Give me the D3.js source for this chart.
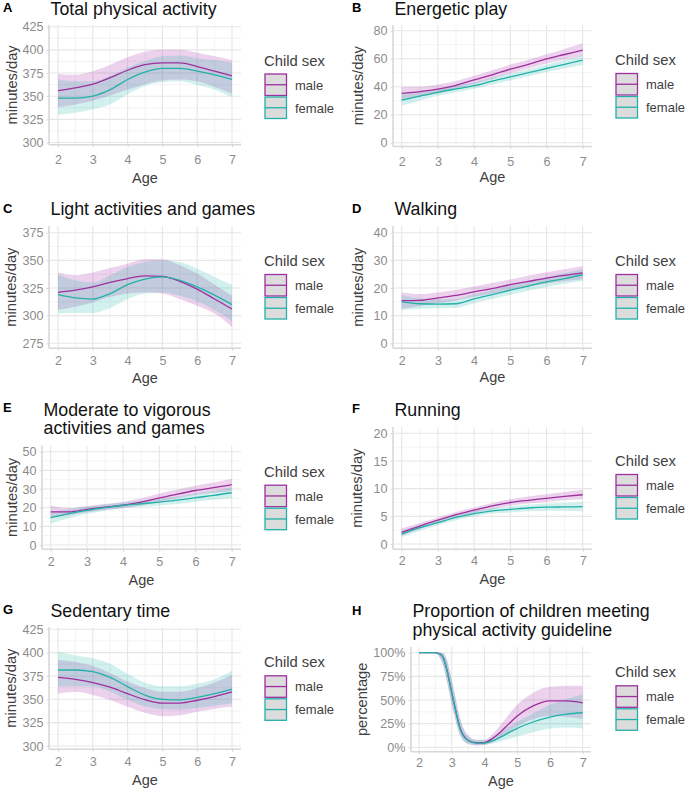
<!DOCTYPE html>
<html>
<head>
<meta charset="utf-8">
<script src="https://cdn.jsdelivr.net/npm/d3@7"></script>
<style>
  body { margin: 0; background: #fff; }
  svg { display: block; font-family: "Liberation Sans", Arial, sans-serif; }
</style>
</head>
<body>
<div id="chart"></div>
<script>
const ages = [2, 2.5, 3, 3.5, 4, 4.5, 5, 5.5, 6, 6.5, 7];
const agesH = [2, 2.25, 2.5, 2.65, 2.75, 2.85, 3, 3.1, 3.25, 3.5, 3.75, 4, 4.25, 4.5, 4.75, 5, 5.5, 6, 6.5, 7];
const ageTicks = [2, 3, 4, 5, 6, 7];
const sexes = ['male', 'female'];

// A - total physical activity
const totalMale     = [356, 359, 363, 370, 378, 384, 386, 386, 382, 377, 372];
const totalMaleLo   = [338, 341, 345, 351, 357, 363, 367, 368, 366, 360, 353];
const totalMaleHi   = [374, 373, 377, 384, 392, 398, 400, 400, 397, 393, 389];
const totalFemale   = [348, 348, 350, 357, 368, 376, 380, 380, 377, 373, 368];
const totalFemaleLo = [330, 332, 336, 341, 352, 361, 365, 366, 362, 357, 349];
const totalFemaleHi = [368, 366, 366, 372, 381, 388, 393, 394, 391, 389, 386];

// B - energetic play
const energMale     = [35.2, 36.5, 38.3, 41, 44.8, 48.5, 52.5, 56, 59.8, 63, 66.2];
const energMaleLo   = [31, 33, 35.5, 38.5, 42, 45.5, 49.5, 53, 56.5, 59.5, 62];
const energMaleHi   = [40, 40, 41.5, 44, 47.8, 51.8, 55.8, 59.3, 63.2, 67, 71];
const energFemale   = [30.5, 33.3, 36, 38.4, 40.7, 44, 47, 50, 53, 56, 59];
const energFemaleLo = [26.5, 30, 33.5, 36, 38.5, 41.5, 44.5, 47.5, 50.5, 53, 55.5];
const energFemaleHi = [34.5, 36.5, 38.5, 41, 43, 46.5, 49.5, 52.5, 55.8, 59, 62.5];

// C - light activities and games
const lightMale     = [321, 323, 326, 330, 333.5, 336, 335.5, 331, 324, 315, 306];
const lightMaleLo   = [305, 308, 312, 317, 320, 321, 320, 315, 309, 302, 290];
const lightMaleHi   = [339, 336.5, 339, 343, 347, 351, 351, 345.5, 338, 328, 318];
const lightFemale   = [319, 316, 315, 320, 328, 333, 335, 332, 326, 318.5, 310];
const lightFemaleLo = [302, 302.5, 302.5, 307, 315, 320, 321, 318, 313, 305, 295];
const lightFemaleHi = [337, 332, 330, 336.5, 344, 348.5, 350, 348.5, 342.5, 335, 328];

// D - walking
const walkMale     = [15.4, 15.5, 16.4, 17.3, 18.6, 19.8, 21.2, 22.4, 23.6, 24.6, 25.5];
const walkMaleLo   = [12.5, 13.5, 14.5, 15.5, 16.8, 18, 19.3, 20.5, 21.6, 22.5, 23.2];
const walkMaleHi   = [18.5, 17.8, 18.4, 19.3, 20.5, 21.8, 23.1, 24.4, 25.7, 26.8, 28];
const walkFemale   = [15, 14.3, 14.2, 14.3, 16.1, 17.6, 19.2, 20.7, 22.2, 23.4, 24.8];
const walkFemaleLo = [12, 12.5, 12.6, 12.8, 14.5, 16, 17.5, 19, 20.4, 21.5, 22.5];
const walkFemaleHi = [17.5, 16.2, 15.9, 16, 17.7, 19.2, 20.8, 22.4, 24, 25.3, 27];

// E - moderate to vigorous activities and games
const mvpaMale     = [17.7, 17.7, 19.1, 20.3, 21.3, 23, 25.2, 27.3, 29.2, 30.7, 32.3];
const mvpaMaleLo   = [15, 16, 17.5, 18.8, 19.8, 21.2, 23.2, 25.2, 26.8, 28, 29];
const mvpaMaleHi   = [21, 19.8, 20.8, 22, 23, 25, 27.6, 29.8, 31.8, 33.5, 35.5];
const mvpaFemale   = [14.6, 16.8, 18.6, 20, 21.3, 22.1, 23, 24, 25.4, 26.6, 28];
const mvpaFemaleLo = [11.5, 14.3, 16.7, 18.3, 19.8, 20.5, 21.2, 22, 23.2, 24.2, 25];
const mvpaFemaleHi = [17.8, 19.2, 20.6, 21.7, 22.8, 23.7, 24.8, 26, 27.6, 29, 31];

// F - running
const runMale     = [2.1, 3.25, 4.3, 5.3, 6.1, 6.9, 7.5, 7.9, 8.25, 8.6, 8.9];
const runMaleLo   = [1.5, 2.7, 3.8, 4.8, 5.6, 6.3, 6.9, 7.3, 7.6, 7.9, 8.1];
const runMaleHi   = [2.8, 3.8, 4.8, 5.8, 6.6, 7.4, 8.1, 8.6, 9, 9.4, 9.8];
const runFemale   = [1.8, 2.95, 3.85, 4.8, 5.5, 6, 6.25, 6.5, 6.65, 6.7, 6.75];
const runFemaleLo = [1.2, 2.4, 3.4, 4.3, 5, 5.5, 5.7, 5.9, 6, 6, 5.9];
const runFemaleHi = [2.4, 3.5, 4.3, 5.3, 6, 6.5, 6.8, 7.1, 7.3, 7.4, 7.6];

// G - sedentary time
const sedMale     = [373.6, 371.4, 368, 363, 356, 349.6, 346, 346, 349, 353, 358];
const sedMaleLo   = [356, 358, 354.6, 349.3, 342, 335.6, 332, 333, 336.8, 340, 342];
const sedMaleHi   = [392, 390, 385.7, 378, 369, 362, 358, 358, 362, 368, 376];
const sedFemale   = [381.4, 381.4, 379.6, 373.6, 363.6, 354.6, 350, 349.3, 352, 356, 361];
const sedFemaleLo = [363.6, 363.6, 363.6, 358, 349.3, 342.3, 339.5, 338.8, 340.6, 343, 345.7];
const sedFemaleHi = [401, 397, 394, 388, 377, 368, 364, 364, 366.6, 371.4, 380.7];

// H - proportion meeting guideline (%)
const propMale     = [100, 100, 100, 98.5, 94, 82, 58, 42, 21, 7.5, 4.8, 5, 9.5, 16.5, 25, 33, 44, 49, 49, 47];
const propMaleLo   = [99.5, 99.5, 99, 94, 85, 70, 45, 31, 13, 3.5, 2, 2.5, 5, 10, 16, 22, 30, 33, 32, 30];
const propMaleHi   = [100, 100, 100, 100, 99.5, 93, 71, 55, 31, 12.5, 8, 8, 14, 24, 35, 45, 58, 64, 65, 65];
const propFemale   = [100, 100, 100, 98.5, 94, 82, 58, 42, 20, 7, 4.5, 4.5, 7, 11, 15.5, 20, 27, 32, 35, 36.5];
const propFemaleLo = [99.5, 99.5, 99, 94, 85, 70, 45, 31, 13, 3.5, 2, 2.5, 4, 6.5, 9, 11.5, 16, 20, 21, 20];
const propFemaleHi = [100, 100, 100, 100, 99.5, 93, 71, 55, 31, 12, 8, 8, 10.5, 16, 22, 27, 36, 45, 51, 56];

const lineColor = { male: '#9E2F9E', female: '#23B0A8' };
const fillColor = { male: '#A020A0', female: '#20B2AA' };

// layout of the eight panels (pixel positions)
const panels = [
  { letter: 'A', title: ['Total physical activity'], x: ages,
    series: [[totalMale, totalMaleLo, totalMaleHi], [totalFemale, totalFemaleLo, totalFemaleHi]],
    yDomain: [300, 425], yTicks: [300, 325, 350, 375, 400, 425], yLabel: 'minutes/day',
    xr: [58, 232], yr: [142.5, 26.7], box: [49, 241, 25, 144.8],
    letterY: 11.7, titleY: [15], tickY: 164.5, ageY: 183, yTitleX: 11.5, legendY: 65.5 },
  { letter: 'B', title: ['Energetic play'], x: ages,
    series: [[energMale, energMaleLo, energMaleHi], [energFemale, energFemaleLo, energFemaleHi]],
    yDomain: [0, 80], yTicks: [0, 20, 40, 60, 80], yLabel: 'minutes/day',
    xr: [401.7, 582.7], yr: [142.7, 30.7], box: [393, 592, 25, 146.5],
    letterY: 11.7, titleY: [15], tickY: 166, ageY: 181.7, yTitleX: 358, legendY: 65 },
  { letter: 'C', title: ['Light activities and games'], x: ages,
    series: [[lightMale, lightMaleLo, lightMaleHi], [lightFemale, lightFemaleLo, lightFemaleHi]],
    yDomain: [275, 375], yTicks: [275, 300, 325, 350, 375], yLabel: 'minutes/day',
    xr: [58, 232], yr: [343.3, 232.7], box: [49, 241, 226, 348.3],
    letterY: 213.3, titleY: [215], tickY: 365, ageY: 383.3, yTitleX: 10.5, legendY: 266 },
  { letter: 'D', title: ['Walking'], x: ages,
    series: [[walkMale, walkMaleLo, walkMaleHi], [walkFemale, walkFemaleLo, walkFemaleHi]],
    yDomain: [0, 40], yTicks: [0, 10, 20, 30, 40], yLabel: 'minutes/day',
    xr: [401.7, 582.7], yr: [343.3, 232.7], box: [393, 592, 226, 348.3],
    letterY: 213.3, titleY: [215], tickY: 365, ageY: 381.7, yTitleX: 358, legendY: 266 },
  { letter: 'E', title: ['Moderate to vigorous', 'activities and games'], x: ages,
    series: [[mvpaMale, mvpaMaleLo, mvpaMaleHi], [mvpaFemale, mvpaFemaleLo, mvpaFemaleHi]],
    yDomain: [0, 50], yTicks: [0, 10, 20, 30, 40, 50], yLabel: 'minutes/day',
    xr: [50.7, 231.7], yr: [545, 451.7], box: [42, 241, 445.5, 549.3],
    letterY: 411.7, titleY: [416, 434], tickY: 566, ageY: 585, yTitleX: 11.5, legendY: 476.7 },
  { letter: 'F', title: ['Running'], x: ages,
    series: [[runMale, runMaleLo, runMaleHi], [runFemale, runFemaleLo, runFemaleHi]],
    yDomain: [0, 20], yTicks: [0, 5, 10, 15, 20], yLabel: 'minutes/day',
    xr: [401.7, 582.7], yr: [544, 433.3], box: [393, 592, 427, 549.3],
    letterY: 413.3, titleY: [416], tickY: 565.5, ageY: 584.3, yTitleX: 357, legendY: 466 },
  { letter: 'G', title: ['Sedentary time'], x: ages,
    series: [[sedMale, sedMaleLo, sedMaleHi], [sedFemale, sedFemaleLo, sedFemaleHi]],
    yDomain: [300, 425], yTicks: [300, 325, 350, 375, 400, 425], yLabel: 'minutes/day',
    xr: [58, 232], yr: [746, 629.3], box: [49, 241, 627, 749.3],
    letterY: 614, titleY: [616.5], tickY: 766.5, ageY: 785, yTitleX: 10.5, legendY: 667.3 },
  { letter: 'H', title: ['Proportion of children meeting', 'physical activity guideline'], x: agesH,
    series: [[propMale, propMaleLo, propMaleHi], [propFemale, propFemaleLo, propFemaleHi]],
    yDomain: [0, 100], yTicks: [0, 25, 50, 75, 100], yLabel: 'percentage', pct: true,
    xr: [419, 582.7], yr: [747.3, 652.7], box: [411, 591, 647, 751.7],
    letterY: 615, titleY: [617.3, 635.7], tickY: 767.5, ageY: 786, yTitleX: 361.5, legendY: 677.3 }
];

const svg = d3.select('#chart').append('svg')
  .attr('width', 685)
  .attr('height', 790);

panels.forEach((p, k) => drawPanel(p, k));

function drawPanel(p, k) {
  const [left, right, top, bottom] = p.box;
  const x = d3.scaleLinear().domain([2, 7]).range(p.xr);
  const y = d3.scaleLinear().domain(p.yDomain).range(p.yr);
  const g = svg.append('g');

  // grid: minor first, then major
  const xMinor = ageTicks.slice(1).map(t => t - 0.5);
  const yStep = p.yTicks[1] - p.yTicks[0];
  const yMinor = p.yTicks.slice(1).map(t => t - yStep / 2);

  g.selectAll('.xminor').data(xMinor).enter().append('line')
    .attr('x1', d => x(d)).attr('x2', d => x(d))
    .attr('y1', top).attr('y2', bottom)
    .attr('stroke', '#F0F0F0').attr('stroke-width', 0.8);
  g.selectAll('.yminor').data(yMinor).enter().append('line')
    .attr('x1', left).attr('x2', right)
    .attr('y1', d => y(d)).attr('y2', d => y(d))
    .attr('stroke', '#F0F0F0').attr('stroke-width', 0.8);
  g.selectAll('.xmajor').data(ageTicks).enter().append('line')
    .attr('x1', d => x(d)).attr('x2', d => x(d))
    .attr('y1', top).attr('y2', bottom)
    .attr('stroke', '#E6E6E6').attr('stroke-width', 1.1);
  g.selectAll('.ymajor').data(p.yTicks).enter().append('line')
    .attr('x1', left).attr('x2', right)
    .attr('y1', d => y(d)).attr('y2', d => y(d))
    .attr('stroke', '#E6E6E6').attr('stroke-width', 1.1);

  // axis lines
  g.append('line').attr('x1', left).attr('x2', left).attr('y1', top).attr('y2', bottom)
    .attr('stroke', '#D8D8D8').attr('stroke-width', 1.6);
  g.append('line').attr('x1', left).attr('x2', right).attr('y1', bottom).attr('y2', bottom)
    .attr('stroke', '#D8D8D8').attr('stroke-width', 1.6);

  // axes
  const xAxis = d3.axisBottom(x).tickValues(ageTicks).tickFormat(d3.format('d'))
    .tickSize(2.5).tickSizeOuter(0);
  const xg = g.append('g').attr('transform', `translate(0,${bottom})`).call(xAxis);
  xg.select('.domain').remove();
  xg.selectAll('line').attr('stroke', '#D8D8D8');
  xg.selectAll('text')
    .attr('y', p.tickY - bottom).attr('dy', 0)
    .attr('fill', '#8C8C8C').style('font-size', '12.6px')
    .style('font-family', '"Liberation Sans", Arial, sans-serif');

  const yAxis = d3.axisLeft(y).tickValues(p.yTicks).tickSize(2.5).tickPadding(3)
    .tickFormat(p.pct ? d => d + '%' : d3.format('d'));
  const yg = g.append('g').attr('transform', `translate(${left},0)`).call(yAxis);
  yg.select('.domain').remove();
  yg.selectAll('line').attr('stroke', '#D8D8D8');
  yg.selectAll('text')
    .attr('fill', '#8C8C8C').style('font-size', '12.6px')
    .style('font-family', '"Liberation Sans", Arial, sans-serif');

  // ribbons and lines, clipped to the panel
  const clipId = 'clip' + k;
  g.append('clipPath').attr('id', clipId).append('rect')
    .attr('x', left).attr('y', top).attr('width', right - left).attr('height', bottom - top);
  const plot = g.append('g').attr('clip-path', `url(#${clipId})`);

  p.series.forEach((s, i) => {
    const [, lo, hi] = s;
    const area = d3.area()
      .x((d, j) => x(p.x[j]))
      .y0((d, j) => y(lo[j]))
      .y1((d, j) => y(hi[j]))
      .curve(d3.curveMonotoneX);
    plot.append('path')
      .attr('d', area(lo))
      .attr('fill', fillColor[sexes[i]])
      .attr('fill-opacity', 0.2);
  });

  p.series.forEach((s, i) => {
    const line = d3.line()
      .x((d, j) => x(p.x[j]))
      .y(d => y(d))
      .curve(d3.curveMonotoneX);
    plot.append('path')
      .attr('d', line(s[0]))
      .attr('fill', 'none')
      .attr('stroke', lineColor[sexes[i]])
      .attr('stroke-width', 1.3);
  });

  // panel letter and title
  const colX = left < 300 ? 3 : 352;
  g.append('text').attr('x', colX).attr('y', p.letterY)
    .attr('font-weight', 'bold').attr('font-size', 13).attr('fill', '#000')
    .text(p.letter);
  p.title.forEach((t, i) => {
    g.append('text').attr('x', left + 1.5).attr('y', p.titleY[i])
      .attr('font-size', 17.8).attr('fill', '#111')
      .text(t);
  });

  // axis titles
  g.append('text')
    .attr('transform', `translate(${p.yTitleX},${(top + bottom) / 2}) rotate(-90)`)
    .attr('text-anchor', 'middle').attr('dy', '0.35em')
    .attr('font-size', 14.7).attr('fill', '#404040')
    .text(p.yLabel);
  g.append('text')
    .attr('x', (left + right) / 2).attr('y', p.ageY)
    .attr('text-anchor', 'middle')
    .attr('font-size', 14.5).attr('fill', '#404040')
    .text('Age');

  // legend
  const lx = left < 300 ? 264 : 615;
  const T = p.legendY;
  g.append('text').attr('x', lx).attr('y', T)
    .attr('font-size', 14.8).attr('fill', '#404040')
    .text('Child sex');
  sexes.forEach((sx, i) => {
    const ky = T + 8.5 + i * 23;
    g.append('rect')
      .attr('x', lx + 1).attr('y', ky).attr('width', 21.5).attr('height', 21.5)
      .attr('fill', '#DCDCDC').attr('stroke', lineColor[sx]).attr('stroke-width', 1.3);
    g.append('line')
      .attr('x1', lx + 1).attr('x2', lx + 22.5)
      .attr('y1', ky + 10.75).attr('y2', ky + 10.75)
      .attr('stroke', lineColor[sx]).attr('stroke-width', 1.3);
    g.append('text').attr('x', lx + 31).attr('y', ky + 15.5)
      .attr('font-size', 13).attr('fill', '#404040')
      .text(sx);
  });
}
</script>
</body>
</html>
